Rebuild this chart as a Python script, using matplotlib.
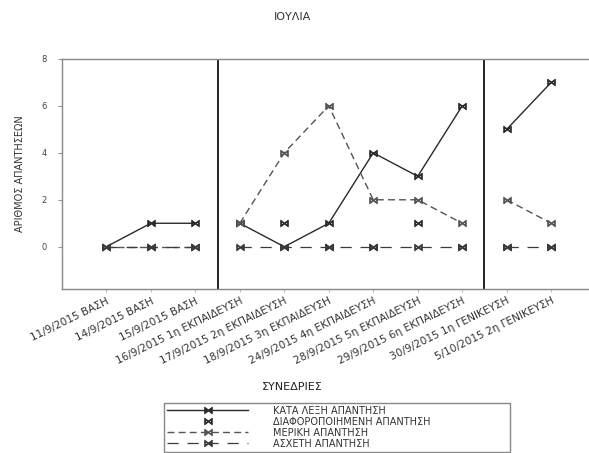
"""ΙΟΥΛΙΑ - αριθμός απαντήσεων ανά συνεδρία"""

import matplotlib.pyplot as plt

# sessions (x axis)
sessions = [
    "11/9/2015 ΒΑΣΗ",
    "14/9/2015 ΒΑΣΗ",
    "15/9/2015 ΒΑΣΗ",
    "16/9/2015 1η ΕΚΠΑΙΔΕΥΣΗ",
    "17/9/2015 2η ΕΚΠΑΙΔΕΥΣΗ",
    "18/9/2015 3η ΕΚΠΑΙΔΕΥΣΗ",
    "24/9/2015 4η ΕΚΠΑΙΔΕΥΣΗ",
    "28/9/2015 5η ΕΚΠΑΙΔΕΥΣΗ",
    "29/9/2015 6η ΕΚΠΑΙΔΕΥΣΗ",
    "30/9/2015 1η ΓΕΝΙΚΕΥΣΗ",
    "5/10/2015 2η ΓΕΝΙΚΕΥΣΗ",
]

# phases: base / training / generalisation
phase_sizes = [3, 6, 2]

kata_lexi = [0, 1, 1, 1, 0, 1, 4, 3, 6, 5, 7]
diaforopoiimeni = [0, 0, 0, 1, 1, 0, 0, 1, 0, 0, 0]
meriki = [0, 0, 0, 1, 4, 6, 2, 2, 1, 2, 1]
asxeti = [0, 0, 0, 0, 0, 0, 0, 0, 0, 0, 0]

labels = [
    "ΚΑΤΑ ΛΕΞΗ ΑΠΑΝΤΗΣΗ",
    "ΔΙΑΦΟΡΟΠΟΙΗΜΕΝΗ ΑΠΑΝΤΗΣΗ",
    "ΜΕΡΙΚΗ ΑΠΑΝΤΗΣΗ",
    "ΑΣΧΕΤΗ ΑΠΑΝΤΗΣΗ",
]
y_ticks = [0, 2, 4, 6, 8]


def main():
    fig = plt.figure(figsize=(5.89, 4.53), dpi=100)
    ax = fig.add_axes([0.105, 0.362, 0.895, 0.508])

    mk = r"$\bowtie$"
    styles = [
        dict(color="#2a2a2a", linestyle="-", lw=1.0),
        dict(color="#2a2a2a", linestyle="none"),
        dict(color="#555555", linestyle=(0, (5, 3)), lw=1.0),
        dict(color="#3a3a3a", linestyle=(0, (9, 7)), lw=0.9),
    ]
    series = [kata_lexi, diaforopoiimeni, meriki, asxeti]

    x = list(range(len(sessions)))
    handles = []
    for vals, st, lab in zip(series, styles, labels):
        start = 0
        for n in phase_sizes:
            xs = x[start:start + n]
            ys = vals[start:start + n]
            ln, = ax.plot(xs, ys, marker=mk, markersize=5.5, mew=0.6,
                          **st)
            start += n
        handles.append(ln)

    # phase separators
    b = 0
    for n in phase_sizes[:-1]:
        b += n
        ax.axvline(b - 0.5, color="#222222", lw=1.4)

    ax.set_xlim(-1.0, 10.85)
    ax.set_ylim(-1.8, 8)
    ax.set_yticks(y_ticks)
    ax.set_yticklabels([str(v) for v in y_ticks], fontsize=6, color="#444444")
    ax.set_xticks(x)
    ax.set_xticklabels(sessions, rotation=26, ha="right",
                       rotation_mode="anchor", fontsize=7.6, color="#333333")
    ax.tick_params(axis="y", length=3, color="#999999", pad=8)
    ax.tick_params(axis="x", length=2, color="#bbbbbb", pad=3)
    for s in ax.spines.values():
        s.set_color("#888888")
        s.set_linewidth(1.0)
    ax.spines["right"].set_visible(False)

    ax.set_ylabel("ΑΡΙΘΜΟΣ ΑΠΑΝΤΗΣΕΩΝ", fontsize=7, color="#333333",
                  labelpad=12)
    fig.text(0.497, 0.962, "ΙΟΥΛΙΑ", ha="center", va="center",
             fontsize=8, color="#333333")
    fig.text(0.497, 0.146, "ΣΥΝΕΔΡΙΕΣ", ha="center", va="center",
             fontsize=8, color="#222222")

    leg = fig.legend(handles, labels, loc="upper left",
                     bbox_to_anchor=(159 / 589, 1 - 398 / 453 - 0.1,
                                     356 / 589, 0.1),
                     mode="expand", fontsize=7, handlelength=8.4,
                     handletextpad=2.5, labelspacing=0.1, borderpad=0.3,
                     fancybox=False, edgecolor="#888888", framealpha=1)
    for t in leg.get_texts():
        t.set_color("#333333")

    fig.savefig("out.png", dpi=100)


if __name__ == "__main__":
    main()
